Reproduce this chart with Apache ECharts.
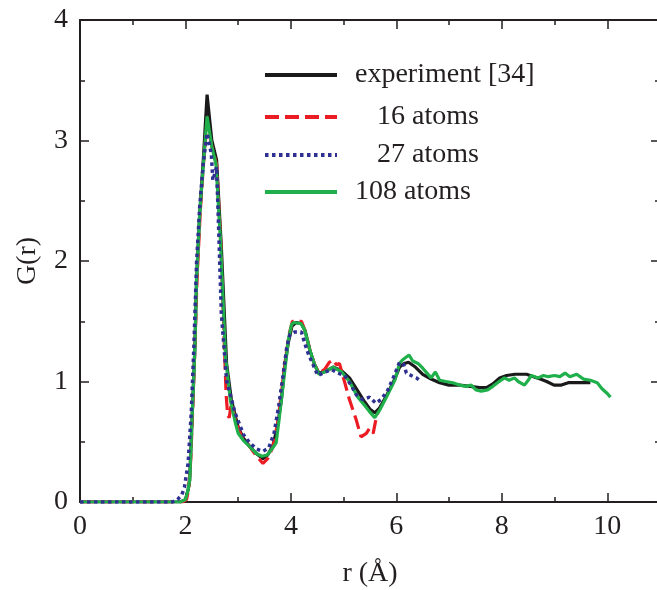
<!DOCTYPE html>
<html>
<head>
<meta charset="utf-8">
<script src="https://cdn.jsdelivr.net/npm/echarts@6/dist/echarts.min.js"></script>
<style>
html,body{margin:0;padding:0;background:#fff;}
#c{width:657px;height:590px;}
</style>
</head>
<body>
<div id="c"></div>
<script>
const xTicks = [0, 2, 4, 6, 8, 10];
const yTicks = [0, 1, 2, 3, 4];
const names = ['experiment [34]', '16 atoms', '27 atoms', '108 atoms'];

const experiment = [[0,0],[1.9,0],[2.0,0.02],[2.05,0.1],[2.08,0.18],[2.13,0.74],[2.18,1.29],[2.21,1.84],[2.27,2.39],[2.34,2.85],[2.41,3.38],[2.5,3.0],[2.59,2.84],[2.68,2.12],[2.78,1.15],[2.87,0.85],[3.0,0.62],[3.1,0.53],[3.22,0.46],[3.35,0.4],[3.47,0.36],[3.56,0.39],[3.66,0.47],[3.75,0.64],[3.82,0.85],[3.88,1.12],[3.95,1.32],[4.02,1.46],[4.1,1.49],[4.2,1.48],[4.27,1.42],[4.36,1.26],[4.45,1.14],[4.53,1.07],[4.64,1.08],[4.8,1.12],[4.96,1.09],[5.11,1.03],[5.27,0.92],[5.4,0.83],[5.5,0.77],[5.59,0.74],[5.68,0.78],[5.81,0.88],[5.97,1.02],[6.06,1.12],[6.15,1.15],[6.23,1.16],[6.36,1.12],[6.5,1.06],[6.66,1.02],[6.82,0.99],[7.0,0.97],[7.2,0.97],[7.4,0.96],[7.58,0.95],[7.71,0.95],[7.83,0.98],[7.96,1.03],[8.09,1.05],[8.25,1.06],[8.47,1.06],[8.6,1.04],[8.73,1.02],[8.85,1.0],[8.99,0.97],[9.13,0.97],[9.26,0.99],[9.42,0.99],[9.55,0.99],[9.68,0.99]];

const atoms16 = [[0,0],[1.95,0],[2.02,0.02],[2.06,0.1],[2.1,0.35],[2.14,0.8],[2.18,1.3],[2.22,1.85],[2.28,2.4],[2.34,2.8],[2.41,3.15],[2.5,2.95],[2.59,2.8],[2.67,2.15],[2.73,1.4],[2.77,0.9],[2.8,0.72],[2.83,0.7],[2.87,0.82],[2.95,0.68],[3.05,0.56],[3.2,0.47],[3.35,0.38],[3.47,0.32],[3.56,0.36],[3.66,0.46],[3.75,0.66],[3.82,0.9],[3.9,1.2],[3.97,1.4],[4.03,1.5],[4.1,1.5],[4.2,1.5],[4.27,1.42],[4.36,1.26],[4.45,1.14],[4.53,1.07],[4.64,1.1],[4.73,1.16],[4.8,1.18],[4.86,1.14],[4.92,1.15],[4.99,1.04],[5.11,0.85],[5.24,0.68],[5.33,0.54],[5.43,0.57],[5.49,0.61],[5.56,0.57],[5.61,0.68],[5.65,0.74]];

const atoms27 = [[0,0],[1.75,0],[1.85,0.02],[1.93,0.06],[1.98,0.12],[2.05,0.32],[2.11,0.74],[2.16,1.29],[2.21,1.98],[2.27,2.45],[2.34,2.82],[2.41,3.06],[2.49,2.89],[2.52,2.67],[2.59,2.78],[2.62,2.4],[2.68,1.57],[2.78,1.01],[2.94,0.74],[3.1,0.56],[3.22,0.49],[3.35,0.44],[3.47,0.42],[3.58,0.45],[3.68,0.57],[3.77,0.8],[3.85,1.05],[3.92,1.28],[3.98,1.39],[4.07,1.41],[4.2,1.41],[4.26,1.32],[4.33,1.23],[4.42,1.14],[4.51,1.05],[4.61,1.07],[4.77,1.1],[4.89,1.07],[5.02,1.05],[5.14,0.97],[5.24,0.89],[5.36,0.85],[5.49,0.87],[5.61,0.82],[5.71,0.85],[5.84,0.93],[5.97,1.06],[6.06,1.16],[6.14,1.14],[6.19,1.07],[6.28,1.05],[6.38,1.03],[6.47,1.0]];

const atoms108 = [[0,0],[1.9,0],[2.0,0.02],[2.05,0.1],[2.08,0.18],[2.13,0.74],[2.18,1.29],[2.21,1.84],[2.27,2.39],[2.34,2.8],[2.41,3.2],[2.5,2.95],[2.58,2.8],[2.66,2.2],[2.76,1.2],[2.85,0.85],[2.95,0.65],[3.0,0.57],[3.1,0.51],[3.22,0.46],[3.35,0.4],[3.45,0.38],[3.55,0.39],[3.64,0.44],[3.72,0.49],[3.78,0.7],[3.85,0.96],[3.95,1.34],[4.01,1.47],[4.05,1.49],[4.19,1.48],[4.26,1.43],[4.36,1.26],[4.45,1.14],[4.53,1.06],[4.64,1.08],[4.8,1.12],[4.96,1.08],[5.11,1.0],[5.27,0.87],[5.4,0.8],[5.49,0.75],[5.59,0.7],[5.68,0.76],[5.81,0.87],[5.97,1.01],[6.06,1.15],[6.12,1.18],[6.24,1.22],[6.31,1.17],[6.41,1.15],[6.5,1.11],[6.66,1.03],[6.74,1.08],[6.82,1.01],[6.94,1.0],[7.07,0.99],[7.2,0.97],[7.32,0.96],[7.42,0.97],[7.51,0.93],[7.61,0.92],[7.73,0.93],[7.83,0.96],[7.95,1.0],[8.05,1.03],[8.14,1.01],[8.24,1.03],[8.31,1.0],[8.43,0.97],[8.5,1.01],[8.56,1.05],[8.69,1.03],[8.79,1.05],[8.88,1.04],[9.0,1.05],[9.1,1.04],[9.2,1.07],[9.29,1.04],[9.42,1.06],[9.55,1.02],[9.68,1.01],[9.81,0.99],[9.9,0.94],[10.0,0.9],[10.06,0.87]];

const FONT = 'Liberation Serif';
const AX = '#231f20';
const chart = echarts.init(document.getElementById('c'));

function xAx(pos, labels) {
  return {
    type: 'value', position: pos, min: 0, max: 11, interval: 2,
    axisLine: { show: true, onZero: false, lineStyle: { color: AX, width: 2 } },
    axisTick: { show: true, inside: true, length: 9, lineStyle: { color: AX, width: 1.5 } },
    minorTick: { show: true, splitNumber: 2, length: 5, lineStyle: { color: AX, width: 1.5 } },
    splitLine: { show: false },
    axisLabel: { show: labels, showMaxLabel: false, margin: 11, fontFamily: FONT, fontSize: 28, color: AX,
      formatter: v => xTicks.indexOf(v) >= 0 ? String(v) : '' },
    name: labels ? 'r (Å)' : '', nameLocation: 'middle', nameGap: 58,
    nameTextStyle: { fontFamily: FONT, fontSize: 28, color: AX }
  };
}
function yAx(pos, labels) {
  return {
    type: 'value', position: pos, min: 0, max: 4, interval: 1,
    axisLine: { show: true, onZero: false, lineStyle: { color: AX, width: 2 } },
    axisTick: { show: true, inside: true, length: 9, lineStyle: { color: AX, width: 1.5 } },
    minorTick: { show: true, splitNumber: 2, length: 5, lineStyle: { color: AX, width: 1.5 } },
    splitLine: { show: false },
    axisLabel: { show: labels, margin: 12, fontFamily: FONT, fontSize: 28, color: AX,
      formatter: v => yTicks.indexOf(v) >= 0 ? String(v) : '' },
    name: labels ? 'G(r)' : '', nameLocation: 'middle', nameGap: 38, nameRotate: 90,
    nameTextStyle: { fontFamily: FONT, fontSize: 28, color: AX }
  };
}

const colors = ['#1a1a1a', '#ec1c24', '#2e3192', '#1fb04b'];
const dashes = ['solid', [14, 6], [3.5, 3.5], 'solid'];
const legendTops = [56, 98, 136, 173];
const legendPad = [13, 35, 35, 13];

chart.setOption({
  animation: false,
  backgroundColor: '#ffffff',
  grid: { left: 80, top: 20, right: -3, bottom: 88, containLabel: false, outerBoundsMode: 'none' },
  xAxis: [xAx('bottom', true), xAx('top', false)],
  yAxis: [yAx('left', true), yAx('right', false)],
  legend: names.map((n, i) => ({
    data: [n], orient: 'vertical', left: 258, top: legendTops[i],
    itemWidth: 72, itemHeight: 14, selectedMode: false,
    itemStyle: { opacity: 0 },
    lineStyle: { width: 4, color: colors[i], type: dashes[i] },
    textStyle: { fontFamily: FONT, fontSize: 28, color: AX, padding: [0, 0, 0, legendPad[i]] }
  })),
  series: [
    { name: names[0], type: 'line', data: experiment, symbol: 'none', z: 2,
      lineStyle: { color: colors[0], width: 3.2, type: dashes[0] }, itemStyle: { color: colors[0] } },
    { name: names[1], type: 'line', data: atoms16, symbol: 'none', z: 3,
      lineStyle: { color: colors[1], width: 3.2, type: dashes[1] }, itemStyle: { color: colors[1] } },
    { name: names[2], type: 'line', data: atoms27, symbol: 'none', z: 5,
      lineStyle: { color: colors[2], width: 3.5, type: dashes[2] }, itemStyle: { color: colors[2] } },
    { name: names[3], type: 'line', data: atoms108, symbol: 'none', z: 4,
      lineStyle: { color: colors[3], width: 3.2, type: dashes[3] }, itemStyle: { color: colors[3] } }
  ]
});
</script>
</body>
</html>
